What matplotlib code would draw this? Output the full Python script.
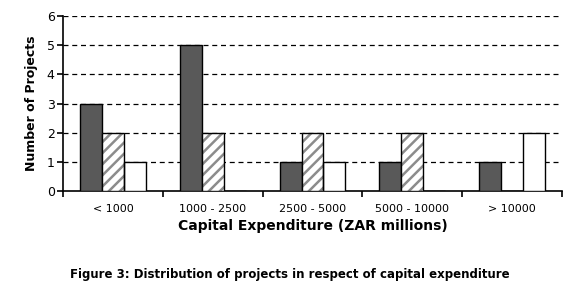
import numpy as np
import matplotlib
matplotlib.use("Agg")
import matplotlib.pyplot as plt

categories = ["< 1000", "1000 - 2500", "2500 - 5000", "5000 - 10000", "> 10000"]
dark_counts = [3, 5, 1, 1, 1]
hatched_counts = [2, 2, 2, 2, 0]
white_counts = [1, 0, 1, 0, 2]

plt.rcParams["font.family"] = "DejaVu Sans"
plt.rcParams["hatch.linewidth"] = 1.8
plt.rcParams["hatch.color"] = "#8c8c8c"

fig = plt.figure(figsize=(5.8, 2.84), dpi=100)
ax = fig.add_axes([0.1086, 0.327, 0.8604, 0.617])

x = np.arange(len(categories))
w = 0.22

ax.bar(x - w, dark_counts, w, color="#595959", edgecolor="black", linewidth=1, zorder=3)
# hatched fill first, then black outline on top
ax.bar(x, hatched_counts, w, color="white", edgecolor="#8c8c8c", hatch="///", linewidth=0, zorder=3)
ax.bar(x, hatched_counts, w, fill=False, edgecolor="black", linewidth=1, zorder=4)
ax.bar(x + w, white_counts, w, color="white", edgecolor="black", linewidth=1, zorder=3)

ax.set_xlim(-0.5, len(categories) - 0.5)
ax.set_ylim(0, 6)
ax.set_yticks(range(0, 7))
ax.tick_params(axis="y", labelsize=9, length=4, width=1.2, pad=2)

ax.set_xticks(x)
ax.set_xticklabels(categories, fontsize=8)
ax.tick_params(axis="x", which="major", length=0, pad=9)
ax.set_xticks(np.arange(-0.5, len(categories)), minor=True)
ax.tick_params(axis="x", which="minor", length=4, width=1.2)

for y in range(1, 7):
    ax.axhline(y, color="black", linestyle=(0, (4, 3)), linewidth=0.9, zorder=1)

for s in ["top", "right"]:
    ax.spines[s].set_visible(False)
ax.spines["left"].set_linewidth(1.2)
ax.spines["bottom"].set_linewidth(1.2)

ax.set_ylabel("Number of Projects", fontsize=9, fontweight="bold", labelpad=6)
ax.set_xlabel("Capital Expenditure (ZAR millions)", fontsize=10, fontweight="bold", labelpad=4)

fig.text(0.5, 0.035, "Figure 3: Distribution of projects in respect of capital expenditure",
         ha="center", va="center", fontsize=8.5, fontweight="bold")

fig.savefig("out.png", dpi=100)
